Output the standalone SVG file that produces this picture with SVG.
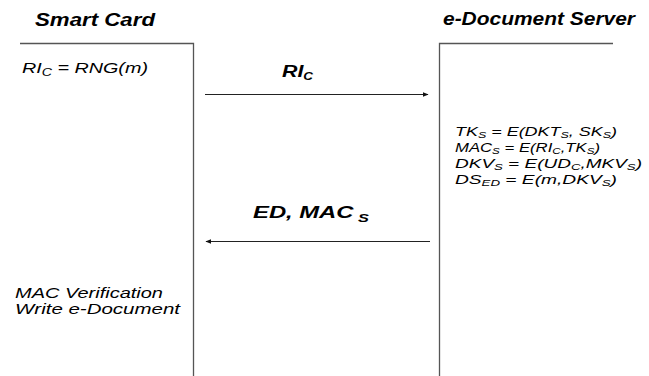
<svg xmlns="http://www.w3.org/2000/svg" width="649" height="376" viewBox="0 0 649 376">
<style>
text{font-family:"Liberation Sans",Arial,sans-serif;font-style:italic;fill:#000}
.title{font-size:18px;font-weight:bold}
.lbl{font-size:16px;font-weight:bold}
.body{font-size:14px}
.eq{font-size:13px}
.sub{font-size:10px}
.eq .sub{font-size:9px}
.lane{stroke:#555;stroke-width:1.3;fill:none}
.msg{stroke:#222;stroke-width:1.2;fill:none}
</style>
<defs>
<marker id="ah" viewBox="0 0 10 10" refX="9" refY="5" markerWidth="6" markerHeight="6" orient="auto-start-reverse" markerUnits="userSpaceOnUse">
<path d="M0,1 L10,5 L0,9 Z" fill="#111"/>
</marker>
</defs>
<rect width="649" height="376" fill="#fff"/>
<g id="smart-card">
<text class="title" x="35" y="26" textLength="120" lengthAdjust="spacingAndGlyphs">Smart Card</text>
<path class="lane" d="M20,43.5 H193.5 V376"/>
<text class="body" x="22" y="73" textLength="126" lengthAdjust="spacingAndGlyphs">RI<tspan class="sub" dy="3">C</tspan><tspan dy="-3"> = RNG(m)</tspan></text>
<text class="body" x="15" y="298" textLength="148" lengthAdjust="spacingAndGlyphs">MAC Verification</text>
<text class="body" x="15" y="314" textLength="165" lengthAdjust="spacingAndGlyphs">Write e-Document</text>
</g>
<g id="server">
<text class="title" x="443" y="25" textLength="192" lengthAdjust="spacingAndGlyphs">e-Document Server</text>
<path class="lane" d="M613,43.5 H439.5 V376"/>
<text class="body eq" x="455" y="136" textLength="162" lengthAdjust="spacingAndGlyphs">TK<tspan class="sub" dy="2">S</tspan><tspan dy="-2"> = E(DKT</tspan><tspan class="sub" dy="2">S</tspan><tspan dy="-2">, SK</tspan><tspan class="sub" dy="2">S</tspan><tspan dy="-2">)</tspan></text>
<text class="body eq" x="455" y="152" textLength="145" lengthAdjust="spacingAndGlyphs">MAC<tspan class="sub" dy="2">S</tspan><tspan dy="-2"> = E(RI</tspan><tspan class="sub" dy="2">C</tspan><tspan dy="-2">,TK</tspan><tspan class="sub" dy="2">S</tspan><tspan dy="-2">)</tspan></text>
<text class="body eq" x="455" y="168" textLength="187" lengthAdjust="spacingAndGlyphs">DKV<tspan class="sub" dy="2">S</tspan><tspan dy="-2"> = E(UD</tspan><tspan class="sub" dy="2">C</tspan><tspan dy="-2">,MKV</tspan><tspan class="sub" dy="2">S</tspan><tspan dy="-2">)</tspan></text>
<text class="body eq" x="455" y="184" textLength="162" lengthAdjust="spacingAndGlyphs">DS<tspan class="sub" dy="2">ED</tspan><tspan dy="-2"> = E(m,DKV</tspan><tspan class="sub" dy="2">S</tspan><tspan dy="-2">)</tspan></text>
</g>
<g id="connectors">
<path class="msg" d="M205,94.5 H428" marker-end="url(#ah)"/>
<text class="lbl" x="282" y="77" textLength="31" lengthAdjust="spacingAndGlyphs">RI<tspan class="sub" dy="3">C</tspan></text>
<path class="msg" d="M430,241.5 H206" marker-end="url(#ah)"/>
<text class="lbl" x="253" y="218" textLength="116" lengthAdjust="spacingAndGlyphs">ED, MAC<tspan class="sub" dy="4" style="font-size:11px"> S</tspan></text>
</g>
</svg>
